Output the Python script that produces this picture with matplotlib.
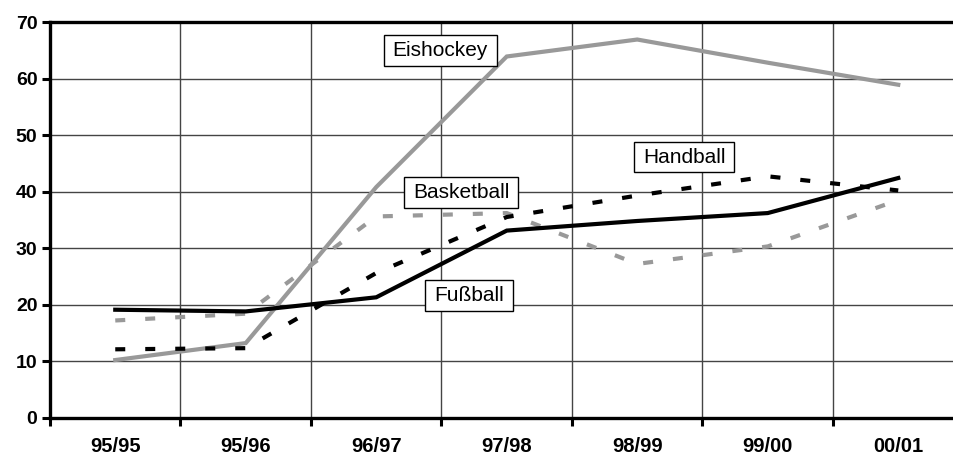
import matplotlib.pyplot as plt
from matplotlib.path import Path

seasons = ['95/95', '95/96', '96/97', '97/98', '98/99', '99/00', '00/01']
eishockey = [10.2, 13.2, 40.8, 63.9, 66.9, 62.8, 58.9]
fussball = [19.1, 18.8, 21.3, 33.1, 34.8, 36.2, 42.4]
handball = [12.1, 12.3, 25.6, 35.5, 39.3, 42.7, 40.2]
basketball = [17.2, 18.4, 35.6, 36.2, 27.2, 30.3, 38.5]

plt.rcParams['font.family'] = ['Liberation Sans', 'DejaVu Sans']


def wide_box(x0, y0, width, height, mutation_size):
    # rechteck mit mehr rand links/rechts als oben/unten
    px = 0.42 * mutation_size
    py = 0.28 * mutation_size
    x0, y0 = x0 - px, y0 - py
    x1, y1 = x0 + width + 2 * px, y0 + height + 2 * py
    return Path([(x0, y0), (x1, y0), (x1, y1), (x0, y1), (x0, y0)], closed=True)


fig = plt.figure(figsize=(9.54, 4.58), dpi=100)
ax = fig.add_axes([50 / 954, 40.3 / 458, 913.5 / 954, 395.7 / 458])

x = range(len(seasons))
gray = '#999999'
dash = (0, (2.4, 4.8))
ax.plot(x, eishockey, color=gray, lw=3, solid_joinstyle='miter', zorder=3)
ax.plot(x, basketball, color=gray, lw=3, linestyle=dash, dash_capstyle='butt', zorder=3)
ax.plot(x, handball, color='black', lw=3, linestyle=dash, dash_capstyle='butt', zorder=4)
ax.plot(x, fussball, color='black', lw=3, solid_joinstyle='miter', zorder=5)

ax.set_xlim(-0.5, len(seasons) - 0.5)
ax.set_ylim(0, 70)
ax.set_yticks(range(0, 71, 10))
ax.set_xticks(list(x))
ax.set_xticklabels(seasons, fontsize=14.5, fontweight='bold')
ax.set_xticks([i - 0.5 for i in x], minor=True)
ax.tick_params(axis='x', which='major', length=0, pad=14)
ax.tick_params(axis='x', which='minor', length=6, width=2.2, direction='out')
ax.tick_params(axis='y', length=6, width=2.2, direction='out', pad=3, labelsize=14)
for lab in ax.get_yticklabels():
    lab.set_fontweight('bold')

ax.grid(True, axis='y', color='#444444', lw=1)
ax.grid(True, axis='x', which='minor', color='#444444', lw=1)
ax.set_axisbelow(True)
for s in ['left', 'bottom', 'top']:
    ax.spines[s].set_linewidth(2.4)
ax.spines['right'].set_visible(False)

box = dict(boxstyle=wide_box, fc='white', ec='black', lw=1)
ax.text(2.49, 65, 'Eishockey', fontsize=15, ha='center', va='center', bbox=box, zorder=6)
ax.text(2.65, 39.8, 'Basketball', fontsize=15, ha='center', va='center', bbox=box, zorder=6)
ax.text(2.71, 21.6, 'Fußball', fontsize=15, ha='center', va='center', bbox=box, zorder=6)
ax.text(4.36, 46.1, 'Handball', fontsize=15, ha='center', va='center', bbox=box, zorder=6)

fig.savefig('out.png', dpi=100)
